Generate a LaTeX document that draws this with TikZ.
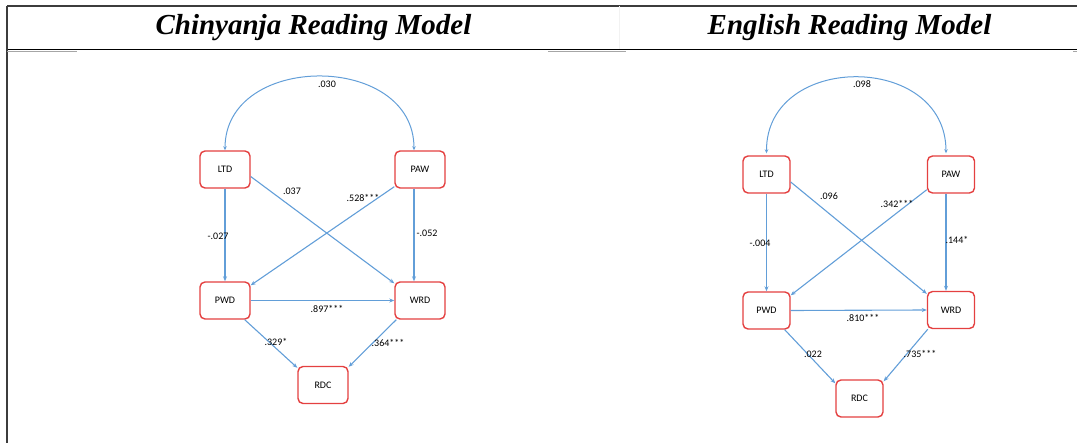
\documentclass[tikz,border=0pt]{standalone}
\usepackage{fontspec}
\setmainfont{Liberation Serif}
\newfontfamily\lblfont{Carlito}
\usetikzlibrary{arrows.meta}
\definecolor{edgeblue}{RGB}{98,158,216}
\definecolor{boxred}{RGB}{228,64,64}
\definecolor{rulegray}{RGB}{60,60,60}
\tikzset{
  var/.style={draw=boxred, line width=1.4pt, rounded corners=5pt, fill=white,
    minimum width=#1, minimum height=37pt, inner sep=0pt, font=\lblfont\fontsize{10}{12}\selectfont},
  var/.default=50pt,
  path/.style={draw=edgeblue, line width=1.1pt, -{Stealth[length=5pt,width=4pt]}},
  cov/.style={draw=edgeblue, line width=1pt, {Stealth[length=4pt,width=3.5pt]}-{Stealth[length=4pt,width=3.5pt]}},
  coef/.style={font=\lblfont\fontsize{10}{12}\selectfont, inner sep=0pt},
  title/.style={font=\fontsize{29}{33}\selectfont\bfseries\itshape, inner sep=0pt}
}
\begin{document}
\begin{tikzpicture}[x=1pt,y=-1pt]
\useasboundingbox (0,0) rectangle (1077,443);
% table rules
\draw[rulegray, line width=1.4pt] (7,6) -- (1077,6);
\draw[black, line width=1.1pt] (7,49.5) -- (1077,49.5);
\draw[rulegray, line width=1.6pt] (7,6) -- (7,443);
\draw[gray!70, line width=1pt] (7,51.5) -- (77,51.5);
\draw[gray!70, line width=1pt] (548,51.5) -- (626,51.5);
\draw[gray!70, line width=1pt] (1073,51.5) -- (1077,51.5);
\draw[gray!10, line width=0.5pt] (619,6) -- (619,49);
% titles
\node[title] (t1) at (313.5,28) {Chinyanja Reading Model};
\node[title] (t2) at (849.5,28) {English Reading Model};

% ---------- Chinyanja model ----------
\node[var] (LTD) at (225,169.5) {LTD};
\node[var] (PAW) at (420,169.5) {PAW};
\node[var] (PWD) at (225,300.5) {PWD};
\node[var] (WRD) at (420,300.5) {WRD};
\node[var] (RDC) at (323,385) {RDC};

\draw[cov] (LTD.north) .. controls (225,52) and (414,52) .. ([xshift=-6pt]PAW.north);
\draw[path] (LTD.south) -- (PWD.north);
\draw[path] ([xshift=-6pt]PAW.south) -- ([xshift=-6pt]WRD.north);
\draw[path] ([yshift=-7pt]LTD.east) -- ([yshift=-2pt]WRD.north west);
\draw[path] ([yshift=2pt]PAW.south west) -- ([yshift=-4pt]PWD.north east);
\draw[path] (PWD.east) -- (WRD.west);
\draw[path] ([xshift=-6pt]PWD.south east) -- ([yshift=-2pt]RDC.north west);
\draw[path] ([xshift=2pt]WRD.south west) -- ([yshift=-1pt]RDC.north east);

\node[coef] (c1) at (327,84) {.030};
\node[coef] (c2) at (292,191) {.037};
\node[coef] (c3) at (363,198) {.528***};
\node[coef] (c4) at (218,236) {-.027};
\node[coef] (c5) at (427,233) {-.052};
\node[coef] (c6) at (327,309) {.897***};
\node[coef] (c7) at (276,342) {.329*};
\node[coef] (c8) at (388,343) {.364***};

% ---------- English model ----------
\node[var=47pt] (LTDe) at (766.5,174.5) {LTD};
\node[var=47pt] (PAWe) at (951,174.5) {PAW};
\node[var=47pt] (PWDe) at (766.5,310.5) {PWD};
\node[var=47pt] (WRDe) at (951,310) {WRD};
\node[var=47pt] (RDCe) at (859.5,398.5) {RDC};

\draw[cov] ([yshift=2pt]LTDe.north) .. controls (766,52) and (946,52) .. ([xshift=-5pt,yshift=2pt]PAWe.north);
\draw[path] (LTDe.south) -- (PWDe.north);
\draw[path] ([xshift=-5pt]PAWe.south) -- ([xshift=-5pt]WRDe.north);
\draw[path] ([yshift=-7.5pt]LTDe.east) -- ([yshift=-3pt]WRDe.north west);
\draw[path] ([yshift=4pt]PAWe.south west) -- ([yshift=-4pt]PWDe.north east);
\draw[path] (PWDe.east) -- (WRDe.west);
\draw[path] ([xshift=-6pt]PWDe.south east) -- ([yshift=-4pt]RDCe.north west);
\draw[path] ([xshift=1pt]WRDe.south west) -- ([yshift=-2pt]RDCe.north east);

\node[coef] (e1) at (862,84) {.098};
\node[coef] (e2) at (829,196) {.096};
\node[coef] (e3) at (897,204) {.342***};
\node[coef] (e4) at (760,243) {-.004};
\node[coef] (e5) at (957,240) {.144*};
\node[coef] (e6) at (863,318) {.810***};
\node[coef] (e7) at (813,354) {.022};
\node[coef] (e8) at (920,354) {.735***};
\end{tikzpicture}
\end{document}
